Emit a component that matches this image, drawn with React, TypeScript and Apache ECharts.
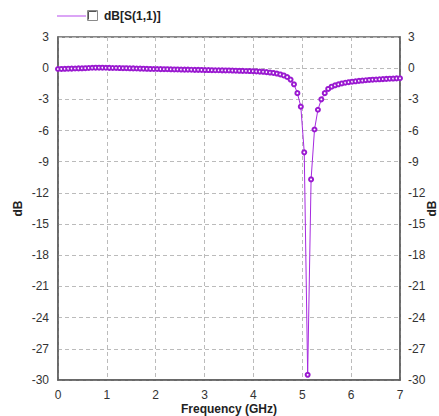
import React, { useEffect, useRef } from "react";
import * as echarts from "echarts";

const SERIES_NAME = "dB[S(1,1)]";
const X_AXIS_NAME = "Frequency (GHz)";
const Y_AXIS_NAME = "dB";
const FREQ_START = 0;
const FREQ_STEP = 0.07;
const S11_DB = [
  -0.08, -0.07, -0.06, -0.05, -0.04, -0.03, -0.02, -0.01, 0.0, 0.02,
  0.04, 0.05, 0.05, 0.05, 0.04, 0.03, 0.02, 0.02, 0.01, 0.0,
  0.0, -0.01, -0.02, -0.03, -0.04, -0.05, -0.06, -0.07, -0.08, -0.08,
  -0.09, -0.1, -0.1, -0.11, -0.12, -0.12, -0.13, -0.14, -0.14, -0.15,
  -0.16, -0.16, -0.17, -0.18, -0.18, -0.19, -0.2, -0.2, -0.21, -0.22,
  -0.22, -0.23, -0.24, -0.25, -0.26, -0.27, -0.28, -0.29, -0.31, -0.33,
  -0.35, -0.38, -0.42, -0.46, -0.52, -0.6, -0.7, -0.85, -1.1, -1.55,
  -2.4, -3.7, -8.1, -29.5, -10.7, -5.9, -4.0, -3.0, -2.4, -2.0,
  -1.78, -1.65, -1.55, -1.47, -1.4, -1.35, -1.3, -1.26, -1.22, -1.19,
  -1.16, -1.13, -1.11, -1.09, -1.07, -1.05, -1.03, -1.01, -1.0, -0.98,
  -0.97,
];

const FONT = "'Liberation Sans', Arial, sans-serif";
const LINE_COLOR = "#a62ae0";
const MARKER_COLOR = "#9a1ad0";

export default function App() {
  const ref = useRef<HTMLDivElement>(null);
  useEffect(() => {
    if (!ref.current) return;
    const chart = echarts.init(ref.current, undefined, { renderer: "svg" });
    const data = S11_DB.map((v, i) => [+(FREQ_START + i * FREQ_STEP).toFixed(2), v]);
    const yAxisCommon = {
      type: "value" as const,
      min: -30,
      max: 3,
      interval: 3,
      name: Y_AXIS_NAME,
      nameLocation: "middle" as const,
      nameRotate: 90,
      nameMoveOverlap: false,
      nameTextStyle: { fontFamily: FONT, fontWeight: "bold" as const, fontSize: 12, color: "#222" },
      axisLine: { show: true, onZero: false, lineStyle: { color: "#606060", width: 1.5 } },
      axisTick: { show: false },
      axisLabel: { fontFamily: FONT, fontSize: 12, color: "#333" },
    };
    chart.setOption({
      animation: false,
      backgroundColor: "#ffffff",
      grid: {
        left: 58,
        right: 39,
        top: 37,
        bottom: 36,
        show: true,
        borderColor: "#606060",
        borderWidth: 1.5,
        containLabel: false,
        outerBoundsMode: "none",
      },
      xAxis: {
        type: "value",
        min: 0,
        max: 7,
        interval: 1,
        name: X_AXIS_NAME,
        nameLocation: "middle",
        nameGap: 23,
        nameMoveOverlap: false,
        nameTextStyle: { fontFamily: FONT, fontWeight: "bold", fontSize: 12, color: "#222" },
        axisLine: { show: true, onZero: false, lineStyle: { color: "#606060", width: 1.5 } },
        axisTick: { show: false },
        axisLabel: { fontFamily: FONT, fontSize: 12, color: "#333", margin: 9 },
        splitLine: { show: true, lineStyle: { color: "#bbbbbb", type: [4, 3], width: 1 } },
      },
      yAxis: [
        {
          ...yAxisCommon,
          position: "left",
          nameGap: 34,
          axisLabel: { ...yAxisCommon.axisLabel, margin: 9 },
          splitLine: { show: true, lineStyle: { color: "#bbbbbb", type: [4, 3], width: 1 } },
        },
        {
          ...yAxisCommon,
          position: "right",
          nameGap: 26,
          axisLabel: { ...yAxisCommon.axisLabel, margin: 8 },
          splitLine: { show: false },
        },
      ],
      series: [
        {
          name: SERIES_NAME,
          type: "line",
          yAxisIndex: 0,
          data,
          showSymbol: true,
          symbol: "emptyCircle",
          symbolSize: 4,
          lineStyle: { color: LINE_COLOR, width: 1 },
          itemStyle: { color: MARKER_COLOR, borderColor: MARKER_COLOR, borderWidth: 1 },
        },
      ],
      graphic: [
        {
          type: "line",
          shape: { x1: 57, y1: 16, x2: 86, y2: 16 },
          style: { stroke: "#c46af0", lineWidth: 1.2 },
        },
        {
          type: "rect",
          shape: { x: 87.5, y: 10.5, width: 10, height: 10 },
          style: { fill: "#ffffff", stroke: "#8a8a8a", lineWidth: 1 },
        },
        {
          type: "polyline",
          shape: { points: [[88.5, 19.5], [88.5, 11.5], [96.5, 11.5]] },
          style: { stroke: "#555555", lineWidth: 1, fill: "none" },
        },
        {
          type: "text",
          x: 104,
          y: 16,
          style: {
            text: SERIES_NAME,
            fontFamily: FONT,
            fontWeight: "bold",
            fontSize: 12,
            fill: "#222",
            verticalAlign: "middle",
            align: "left",
          },
        },
      ],
    });
    return () => chart.dispose();
  }, []);
  return (
    <div
      ref={ref}
      style={{ position: "fixed", left: 0, top: 0, width: 439, height: 416, background: "#fff" }}
    />
  );
}
